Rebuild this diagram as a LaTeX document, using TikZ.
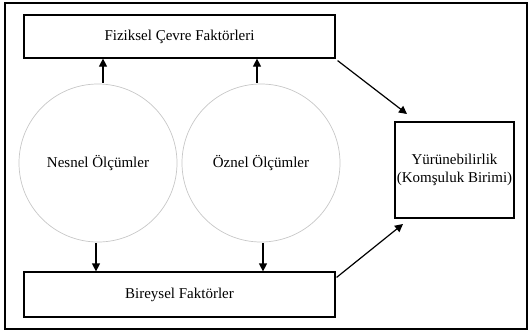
\documentclass[tikz,border=0pt]{standalone}
\usepackage{fontspec}
\setmainfont{Liberation Serif}
\usetikzlibrary{arrows.meta}
\begin{document}
\begin{tikzpicture}[x=1pt,y=-1pt,
  box/.style={draw=black,line width=1.2pt,minimum height=0pt,inner sep=0pt},
  circ/.style={draw=black!22,line width=0.7pt,circle,inner sep=0pt},
  arr/.style={line width=1.2pt,-{Triangle[width=8pt,length=8pt]}},
  lbl/.style={font=\fontsize{15}{18}\selectfont,align=center}]
\useasboundingbox (0,0) rectangle (528,333);
\draw[line width=2.2pt] (5,3) rectangle (527,329);
\node[box,minimum width=311pt,minimum height=43pt,lbl] (top) at (179.5,36.5) {Fiziksel Çevre Faktörleri};
\node[box,minimum width=311pt,minimum height=45pt,lbl] (bot) at (179.5,294.5) {Bireysel Faktörler};
\node[box,minimum width=119pt,minimum height=96pt,lbl] (yur) at (454.5,170) {Yürünebilirlik\\(Komşuluk Birimi)};
\node[circ,minimum size=158pt,lbl] (nes) at (98,163) {Nesnel Ölçümler};
\node[circ,minimum size=158pt,lbl] (ozn) at (261,163) {Öznel Ölçümler};
\coordinate (u1) at (103,83);
\coordinate (u2) at (257,83);
\draw[arr] (u1) -- (u1 |- top.south);
\draw[arr] (u2) -- (u2 |- top.south);
\coordinate (d1) at (96,243);
\coordinate (d2) at (263,243);
\draw[arr] (d1) -- (d1 |- bot.north);
\draw[arr] (d2) -- (d2 |- bot.north);
\coordinate (yt) at (407,114);
\coordinate (yb) at (403,224);
\draw[arr] (top.south east) ++(2,2) -- (yt);
\draw[arr] (bot.north east) ++(1,6) -- (yb);
\end{tikzpicture}
\end{document}
